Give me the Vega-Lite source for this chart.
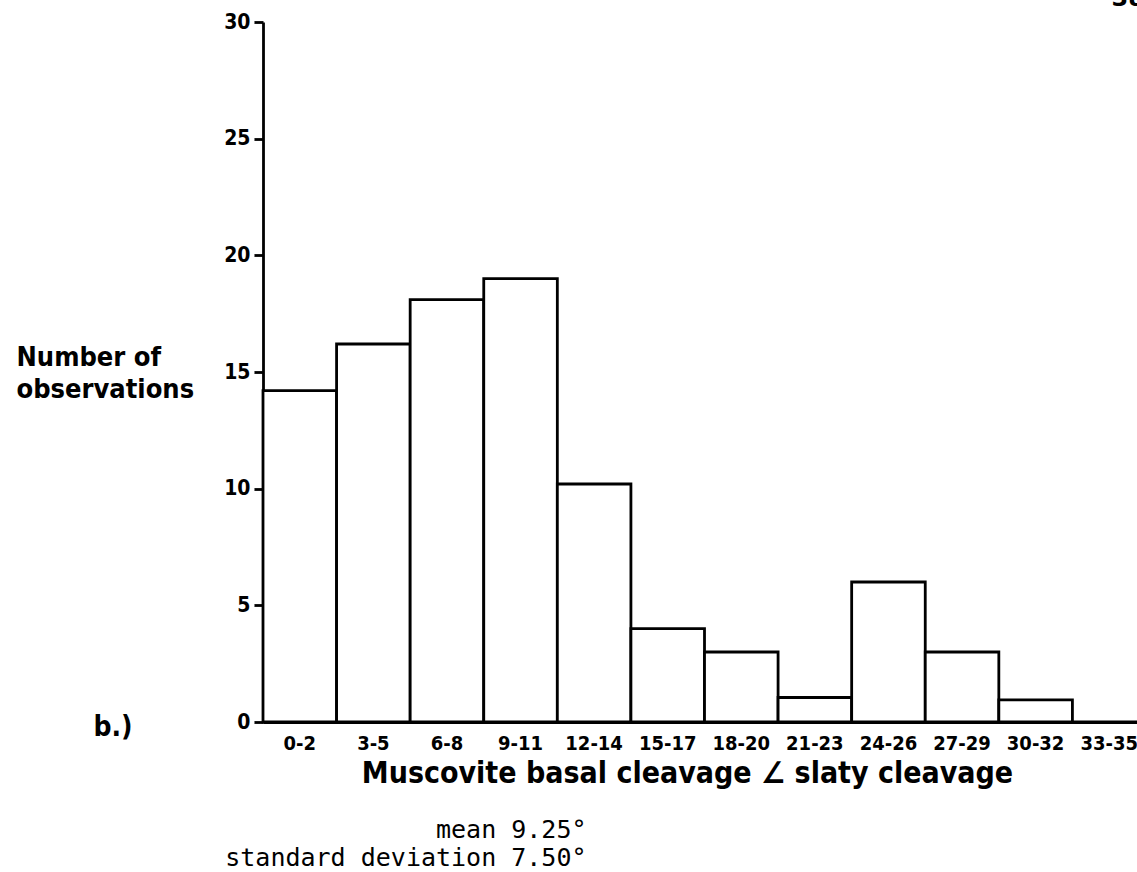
{
  "$schema": "https://vega.github.io/schema/vega-lite/v6.json",
  "width": 874,
  "height": 700,
  "autosize": {"type": "none"},
  "padding": {"left": 263, "top": 22, "right": 0, "bottom": 150},
  "background": "white",
  "config": {
    "view": {"stroke": null},
    "axis": {"grid": false}
  },
  "title": {
    "text": "38",
    "anchor": "end",
    "frame": "group",
    "orient": "top",
    "font": "DejaVu Sans",
    "fontWeight": "bold",
    "fontSize": 24,
    "color": "black",
    "dx": 8,
    "offset": 0
  },
  "data": {
    "values": [
      {"range": "0-2", "count": 14.2},
      {"range": "3-5", "count": 16.2},
      {"range": "6-8", "count": 18.1},
      {"range": "9-11", "count": 19.0},
      {"range": "12-14", "count": 10.2},
      {"range": "15-17", "count": 4.0},
      {"range": "18-20", "count": 3.0},
      {"range": "21-23", "count": 1.05},
      {"range": "24-26", "count": 6.0},
      {"range": "27-29", "count": 3.0},
      {"range": "30-32", "count": 0.95},
      {"range": "33-35", "count": 0}
    ]
  },
  "layer": [
    {
      "mark": {"type": "bar", "fill": "white", "stroke": "black", "strokeWidth": 2.8},
      "encoding": {
        "x": {
          "field": "range",
          "type": "ordinal",
          "sort": null,
          "scale": {"range": [0, 883], "paddingInner": 0, "paddingOuter": 0},
          "axis": {
            "orient": "bottom",
            "labelAngle": 0,
            "labelFont": "DejaVu Sans Condensed",
            "labelFontWeight": "bold",
            "labelFontSize": 20,
            "labelColor": "black",
            "labelPadding": 11,
            "ticks": false,
            "domainColor": "black",
            "domainWidth": 3,
            "title": "Muscovite basal cleavage ∠ slaty cleavage",
            "titleFont": "DejaVu Sans Condensed",
            "titleFontWeight": "bold",
            "titleFontSize": 30,
            "titleColor": "black",
            "titleX": 424,
            "titleY": 60,
            "titleAlign": "center",
            "titleBaseline": "alphabetic"
          }
        },
        "y": {
          "field": "count",
          "type": "quantitative",
          "scale": {"domain": [0, 30], "nice": false},
          "axis": {
            "values": [0, 5, 10, 15, 20, 25, 30],
            "labelFont": "DejaVu Sans Condensed",
            "labelFontWeight": "bold",
            "labelFontSize": 21,
            "labelColor": "black",
            "labelPadding": 4,
            "tickSize": 9,
            "tickWidth": 2.8,
            "tickColor": "black",
            "domainColor": "black",
            "domainWidth": 2.8,
            "title": ["Number  of", "observations"],
            "titleFont": "DejaVu Sans Condensed",
            "titleFontWeight": "bold",
            "titleFontSize": 27,
            "titleColor": "black",
            "titleAngle": 0,
            "titleAlign": "left",
            "titleBaseline": "alphabetic",
            "titleLineHeight": 32,
            "titleX": -247,
            "titleY": 343
          }
        }
      }
    },
    {
      "mark": {"type": "bar", "fillOpacity": 0, "strokeOpacity": 0},
      "encoding": {
        "x": {
          "field": "range",
          "type": "ordinal",
          "sort": null,
          "axis": {
            "orient": "top",
            "labels": false,
            "ticks": false,
            "domain": false,
            "title": ["mean 9.25°", "standard deviation 7.50°"],
            "titleFont": "DejaVu Sans Mono",
            "titleFontWeight": "normal",
            "titleFontSize": 25,
            "titleColor": "black",
            "titleAlign": "right",
            "titleBaseline": "alphabetic",
            "titleLineHeight": 28,
            "titleX": 323,
            "titleY": 815
          }
        },
        "y": {
          "field": "count",
          "type": "quantitative",
          "axis": {
            "orient": "right",
            "labels": false,
            "ticks": false,
            "domain": false,
            "title": "b.)",
            "titleFont": "DejaVu Sans Condensed",
            "titleFontWeight": "bold",
            "titleFontSize": 28,
            "titleColor": "black",
            "titleAngle": 0,
            "titleAlign": "left",
            "titleBaseline": "alphabetic",
            "titleX": -1044,
            "titleY": 713
          }
        }
      }
    }
  ],
  "resolve": {
    "scale": {"x": "independent", "y": "independent"},
    "axis": {"x": "independent", "y": "independent"}
  }
}
